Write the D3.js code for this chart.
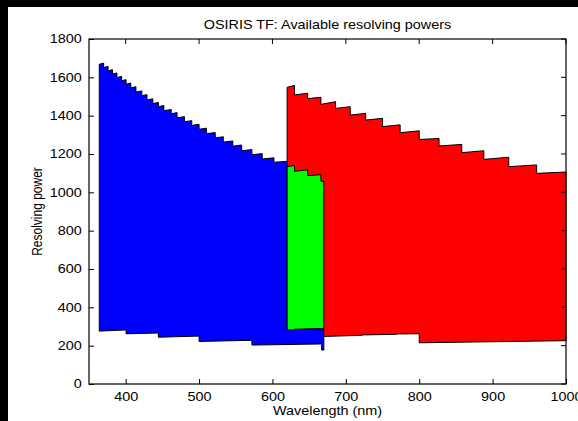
<!DOCTYPE html>
<html>
<head>
<meta charset="utf-8">
<script src="https://cdn.jsdelivr.net/npm/d3@7"></script>
<style>
  html, body { margin: 0; padding: 0; background: #fff; overflow: hidden; }
  #chart { position: relative; width: 578px; height: 421px; overflow: hidden; }
  svg { display: block; overflow: hidden; }
  .lbl { font-family: "Liberation Sans", Arial, sans-serif; font-size: 12px; fill: #000; }
</style>
</head>
<body>
<div id="chart"></div>
<script>
// step boundaries (nm) and value at start / end of each step
const blueTopEdges = [364, 370, 376, 382, 388, 394.5, 400.5, 407, 414, 422, 429, 437, 444.5, 452, 462, 470, 480, 490, 500, 510, 522, 533, 546, 558, 572, 586, 602, 670];
const blueTopStart = [1668, 1651, 1634, 1617, 1599, 1582, 1564, 1545, 1523, 1504, 1482, 1463, 1447, 1426, 1410, 1389, 1368, 1349, 1329, 1306, 1284, 1262, 1241, 1217, 1196, 1174, 1157];
const blueTopEnd   = [1674, 1657, 1640, 1623, 1605, 1588, 1570, 1551, 1529, 1510, 1488, 1469, 1453, 1432, 1416, 1395, 1374, 1355, 1335, 1312, 1290, 1268, 1247, 1223, 1202, 1180, 1175];
const blueBotEdges = [364, 400.5, 444.5, 500, 572, 667, 670];
const blueBotStart = [276, 262, 244, 222, 203, 177];
const blueBotEnd   = [282, 266, 250, 228, 209, 177];

const redTopEdges = [620, 630, 648, 666, 686, 706, 727, 750, 774, 800, 827, 858, 888, 922, 960, 1000];
const redTopStart = [1548, 1508, 1489, 1459, 1438, 1403, 1377, 1343, 1311, 1276, 1242, 1207, 1172, 1134, 1099];
const redTopEnd   = [1558, 1517, 1496, 1473, 1447, 1412, 1386, 1352, 1321, 1281, 1250, 1217, 1183, 1143, 1106];
const redBotEdges = [620, 670, 722, 769, 800, 1000];
const redBotStart = [286, 248, 256, 261, 215];
const redBotEnd   = [286, 254, 259, 262, 226];

const greenTopEdges = [620, 630, 648, 666, 670];
const greenTopStart = [1134, 1110, 1087, 1058];
const greenTopEnd   = [1140, 1117, 1092, 1058];
const greenBotEdges = [620, 630, 670];
const greenBotStart = [282, 286];
const greenBotEnd   = [282, 290];

const xTicks = [400, 500, 600, 700, 800, 900, 1000];
const yTicks = [0, 200, 400, 600, 800, 1000, 1200, 1400, 1600, 1800];

const W = 578, H = 421;
const margin = { top: 39, right: 12, bottom: 37, left: 89 };
const width = W - margin.left - margin.right;
const height = H - margin.top - margin.bottom;
const stretch = 1.2; // text in the picture is widened horizontally
const wide = 'scale(' + stretch + ',1)';

const svg = d3.select('#chart').append('svg')
  .attr('width', W)
  .attr('height', H);

svg.append('rect').attr('width', W).attr('height', H).attr('fill', '#fff');
// black frame strips at top and left
svg.append('rect').attr('x', 0).attr('y', 0).attr('width', W).attr('height', 7).attr('fill', '#000');
svg.append('rect').attr('x', 0).attr('y', 0).attr('width', 8).attr('height', H).attr('fill', '#000');

const g = svg.append('g')
  .attr('transform', 'translate(' + margin.left + ',' + margin.top + ')');

const x = d3.scaleLinear().domain([350, 1000]).range([0, width]);
const y = d3.scaleLinear().domain([0, 1800]).range([height, 0]);

function steps(edges, start, end) {
  const pts = [];
  for (let i = 0; i < start.length; i++) {
    pts.push([edges[i], start[i]]);
    pts.push([edges[i + 1], end[i]]);
  }
  return pts;
}

function region(topE, topS, topEnd, botE, botS, botEnd) {
  const top = steps(topE, topS, topEnd);
  const bot = steps(botE, botS, botEnd).reverse();
  return top.concat(bot);
}

const line = d3.line()
  .x(function(d) { return x(d[0]) })
  .y(function(d) { return y(d[1]) });

const regions = [
  { color: '#0000ff', pts: region(blueTopEdges, blueTopStart, blueTopEnd, blueBotEdges, blueBotStart, blueBotEnd) },
  { color: '#ff0000', pts: region(redTopEdges, redTopStart, redTopEnd, redBotEdges, redBotStart, redBotEnd) },
  { color: '#00ff00', pts: region(greenTopEdges, greenTopStart, greenTopEnd, greenBotEdges, greenBotStart, greenBotEnd) }
];

g.selectAll('.band')
  .data(regions)
  .enter().append('path')
    .attr('class', 'band')
    .attr('d', function(d) { return line(d.pts) + 'Z' })
    .attr('fill', function(d) { return d.color })
    .attr('stroke', '#000')
    .attr('stroke-width', 1)
    .attr('stroke-linejoin', 'miter');

const fmt = d3.format('d');

// labelled axes: left and bottom, ticks pointing inward
g.append('g')
  .attr('transform', 'translate(0,' + height + ')')
  .call(d3.axisBottom(x).tickValues(xTicks).tickFormat(fmt).tickSizeInner(-5).tickSizeOuter(0).tickPadding(8))
  .call(styleAxis);
g.append('g')
  .call(d3.axisLeft(y).tickValues(yTicks).tickFormat(fmt).tickSizeInner(-5).tickSizeOuter(0).tickPadding(6))
  .call(styleAxis);

// mirrored inward ticks on top and right edges
g.selectAll('.xtop')
  .data(xTicks)
  .enter().append('line')
    .attr('class', 'xtop')
    .attr('x1', function(d) { return x(d) })
    .attr('x2', function(d) { return x(d) })
    .attr('y1', 0)
    .attr('y2', 5)
    .attr('stroke', '#000');
g.selectAll('.yright')
  .data(yTicks)
  .enter().append('line')
    .attr('class', 'yright')
    .attr('x1', width)
    .attr('x2', width - 5)
    .attr('y1', function(d) { return y(d) })
    .attr('y2', function(d) { return y(d) })
    .attr('stroke', '#000');

g.append('rect')
  .attr('width', width)
  .attr('height', height)
  .attr('fill', 'none')
  .attr('stroke', '#000')
  .attr('stroke-width', 1.2);

function styleAxis(sel) {
  sel.select('.domain').remove();
  sel.selectAll('.tick line').attr('stroke', '#000');
  sel.selectAll('.tick text')
    .attr('class', 'lbl')
    .attr('fill', '#000')
    .attr('transform', wide);
}

svg.append('text')
  .attr('class', 'lbl')
  .attr('transform', 'translate(' + (margin.left + width / 2) + ',29) ' + wide)
  .attr('text-anchor', 'middle')
  .text('OSIRIS TF: Available resolving powers');

svg.append('text')
  .attr('class', 'lbl')
  .attr('transform', 'translate(' + (margin.left + width / 2) + ',415) ' + wide)
  .attr('text-anchor', 'middle')
  .text('Wavelength (nm)');

svg.append('text')
  .attr('class', 'lbl')
  .attr('transform', 'translate(42,' + (margin.top + height / 2) + ') rotate(-90) scale(1,' + stretch + ')')
  .attr('text-anchor', 'middle')
  .text('Resolving power');

// keep the margin right of the axes box clean
svg.append('rect')
  .attr('x', margin.left + width + 1)
  .attr('y', 7)
  .attr('width', margin.right)
  .attr('height', margin.top + height - 7)
  .attr('fill', '#fff');
</script>
</body>
</html>
